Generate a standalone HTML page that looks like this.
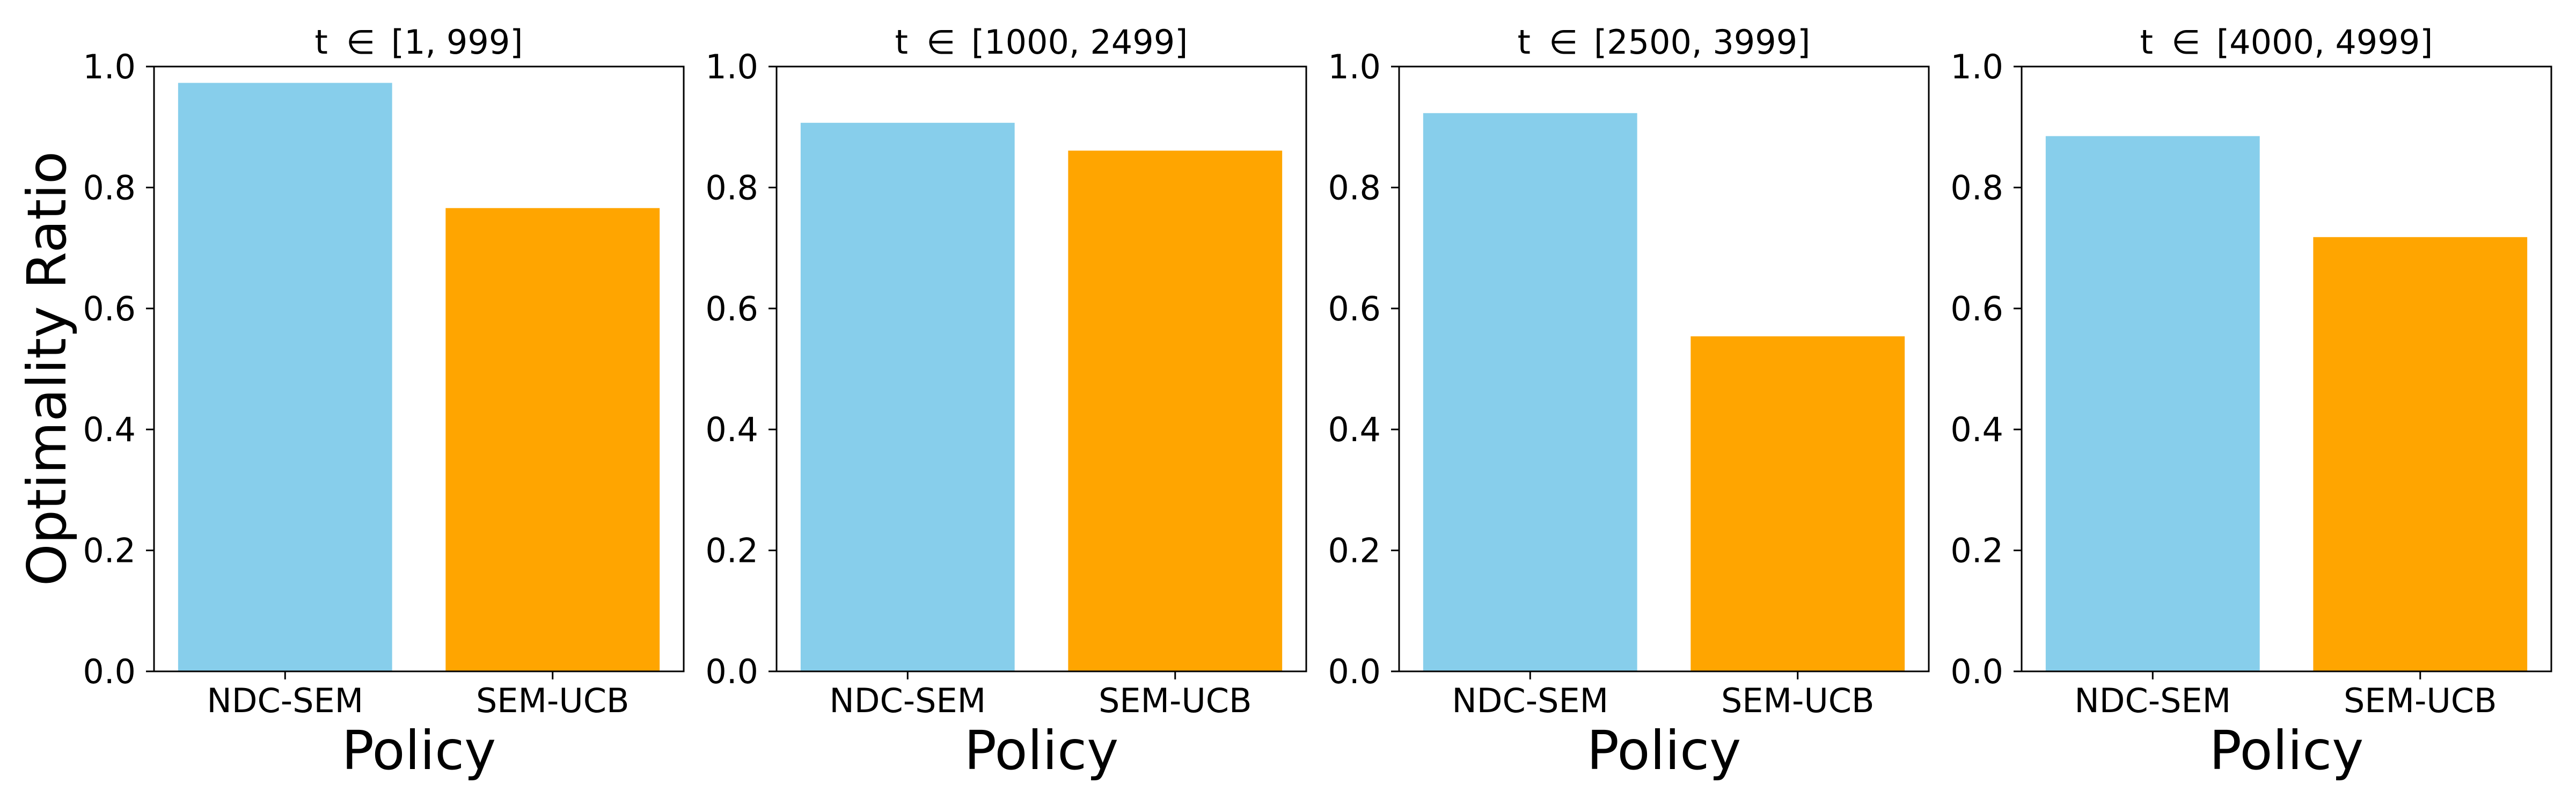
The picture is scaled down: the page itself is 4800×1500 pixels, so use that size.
<!DOCTYPE html>
<html><head><meta charset="utf-8"><style>
html,body{margin:0;padding:0;background:#fff;}
svg{display:block;font-family:"DejaVu Sans","Liberation Sans",sans-serif;}
</style></head><body>
<svg id="chart" width="4800" height="1500" viewBox="0 0 4800 1500" xmlns="http://www.w3.org/2000/svg"></svg>
<script>
const panelRanges = ["[1, 999]", "[1000, 2499]", "[2500, 3999]", "[4000, 4999]"];
const categories = ["NDC-SEM", "SEM-UCB"];
const ndcValues = [0.973, 0.907, 0.923, 0.885];
const ucbValues = [0.766, 0.861, 0.554, 0.718];
const yTicks = [0.0, 0.2, 0.4, 0.6, 0.8, 1.0];
const yTickLabels = ["0.0", "0.2", "0.4", "0.6", "0.8", "1.0"];
const barColors = ["#87ceeb", "#ffa500"];

const svgEl = document.getElementById('chart');
const NS = "http://www.w3.org/2000/svg";
function mk(tag, attrs, parent){
  const e = document.createElementNS(NS, tag);
  for (const k in attrs) e.setAttribute(k, attrs[k]);
  (parent||svgEl).appendChild(e);
  return e;
}
const axTop = 124, axBottom = 1251, axW = 987, step = 1160, firstLeft = 287;
const xMin = -0.49, xMax = 1.49, barW = 0.8;
function yScale(v){ return axBottom - (v - 0) / (1 - 0) * (axBottom - axTop); }

for (let p = 0; p < panelRanges.length; p++) {
  const left = firstLeft + p * step;
  const xScale = v => left + (v - xMin) / (xMax - xMin) * axW;
  const g = mk('g', {});
  
  
  const vals = [ndcValues[p], ucbValues[p]];
  for (let i = 0; i < categories.length; i++) {
    const x0 = xScale(i - barW / 2), x1 = xScale(i + barW / 2);
    const r = mk('rect', {x: x0, y: yScale(vals[i]), width: x1 - x0, height: yScale(0) - yScale(vals[i]), fill: barColors[i]}, g);
    
    
    const tx = xScale(i);
    const tk = mk('line', {x1: tx, x2: tx, y1: axBottom, y2: axBottom + 15, stroke: '#000', 'stroke-width': 3}, g);
    
    
    const tl = mk('text', {x: tx, y: 1327, 'font-size': 62, 'text-anchor': 'middle', fill: '#000'}, g);
    tl.textContent = categories[i];
    
    
  }
  for (let j = 0; j < yTicks.length; j++) {
    const y = yScale(yTicks[j]);
    const tk = mk('line', {x1: left - 15, x2: left, y1: y, y2: y, stroke: '#000', 'stroke-width': 3}, g);
    
    
    const tl = mk('text', {x: left - 34, y: y + 22, 'font-size': 62, 'text-anchor': 'end', fill: '#000'}, g);
    tl.textContent = yTickLabels[j];
    
    
  }
  const fr = mk('rect', {x: left, y: axTop, width: axW, height: axBottom - axTop, fill: 'none', stroke: '#000', 'stroke-width': 3}, g);
  
  
  const tt = mk('text', {x: left + axW / 2, y: 100, 'font-size': 62, 'text-anchor': 'middle', fill: '#000'}, g);
  const s1 = mk('tspan', {}, tt); s1.textContent = 't';
  const s2 = mk('tspan', {dx: 34}, tt); s2.textContent = '\u2208';
  const s3 = mk('tspan', {dx: 30}, tt); s3.textContent = panelRanges[p];
  
  
  const xl = mk('text', {x: left + axW / 2, y: 1433, 'font-size': 100, 'text-anchor': 'middle', fill: '#000'}, g);
  xl.textContent = 'Policy';
  
  
}
const yl = mk('text', {x: 0, y: 0, 'font-size': 100, 'text-anchor': 'middle', fill: '#000', transform: 'translate(122,687) rotate(-90)'});
yl.textContent = 'Optimality Ratio';


</script>
</body></html>
